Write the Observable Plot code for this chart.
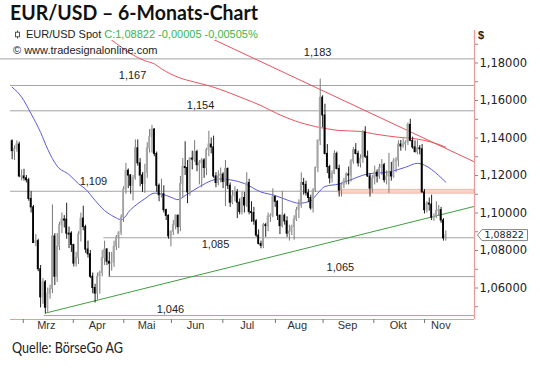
<!DOCTYPE html>
<html><head><meta charset="utf-8">
<script src="https://cdn.jsdelivr.net/npm/d3@7"></script>
<script src="https://cdn.jsdelivr.net/npm/@observablehq/plot@0.6"></script>
<style>
html,body{margin:0;padding:0;background:#fff;}
#wrap{position:relative;width:540px;height:377px;overflow:hidden;background:#fff;}
#chart,#overlay{position:absolute;left:0;top:0;}
</style></head><body>
<div id="wrap"><div id="chart"></div>
<svg id="overlay" width="540" height="377">
 <text x="10" y="19.5" font-family="Lato" font-weight="700" font-size="20.5" fill="#111" textLength="248" lengthAdjust="spacingAndGlyphs">EUR/USD – 6-Monats-Chart</text>
 <line x1="17.5" y1="30.5" x2="17.5" y2="38.5" stroke="#444"/>
 <rect x="15.5" y="32.2" width="4" height="4.6" fill="#fff" stroke="#444" stroke-width="0.9"/>
 <text x="26" y="37.5" font-family="Liberation Sans" font-size="11" fill="#222">EUR/USD Spot <tspan fill="#3cb44b">C:1,08822 -0,00005 -0,00505%</tspan></text>
 <text x="13" y="53.5" font-family="Liberation Sans" font-size="11" fill="#222">© www.tradesignalonline.com</text>
 <text x="478" y="39" font-family="Liberation Sans" font-weight="700" font-size="11" fill="#222">$</text>
 <text x="12" y="353" font-family="Lato" font-size="15.5" fill="#222" textLength="111" lengthAdjust="spacingAndGlyphs">Quelle: BörseGo AG</text>
</svg>
</div>
<script>
// Daily OHLC, EUR/USD (index = trading day)
const open = [
1.1383,1.1330,1.1340,1.1365,1.1195,1.1195,1.1185,1.1175,1.1075,1.1030,
1.0840,1.0850,1.0700,1.0550,1.0630,1.0495,1.0570,1.0595,1.0875,1.0660,
1.0820,1.0935,1.0965,1.0965,1.0890,1.0890,1.0830,1.0730,1.0760,1.0885,
1.0970,1.0925,1.0805,1.0780,1.0660,1.0600,1.0570,1.0660,1.0680,1.0760,
1.0805,1.0740,1.0730,1.0735,1.0820,1.0870,1.0895,1.0975,1.1125,1.1225,
1.1200,1.1145,1.1185,1.1345,1.1265,1.1200,1.1155,1.1215,1.1345,1.1405,
1.1445,1.1315,1.1145,1.1095,1.1100,1.1015,1.0985,1.0875,1.0900,1.0935,
1.0985,1.0925,1.1155,1.1245,1.1240,1.1110,1.1290,1.1285,1.1325,1.1255,
1.1265,1.1280,1.1240,1.1335,1.1365,1.1350,1.1195,1.1160,1.1195,1.1205,
1.1165,1.1235,1.1145,1.1055,1.1090,1.1110,1.1055,1.1005,1.1080,1.1040,
1.1160,1.1005,1.1000,1.0955,1.0880,1.0835,1.0825,1.0935,1.0930,1.0980,
1.0985,1.1085,1.1060,1.0985,1.0930,1.0985,1.0955,1.0890,1.0900,1.0925,
1.0965,1.1015,1.1040,1.1160,1.1150,1.1105,1.1080,1.1025,1.1120,1.1240,
1.1385,1.1615,1.1520,1.1315,1.1245,1.1185,1.1210,1.1315,1.1235,1.1120,
1.1150,1.1170,1.1205,1.1200,1.1275,1.1335,1.1315,1.1265,1.1290,1.1430,
1.1300,1.1195,1.1130,1.1185,1.1215,1.1195,1.1240,1.1255,1.1175,1.1195,
1.1215,1.1195,1.1275,1.1280,1.1365,1.1355,1.1365,1.1375,1.1470,1.1385,
1.1350,1.1325,1.1345,1.1340,1.1110,1.1015,1.1050,1.1045,1.0975,1.0980,
1.1010,1.1015,1.0960,1.0865];
const high = [
1.1390,1.1358,1.1385,1.1378,1.1230,1.1233,1.1200,1.1185,1.1114,1.1040,
1.0885,1.0860,1.0720,1.0650,1.0640,1.0600,1.0615,1.1043,1.0890,1.0890,
1.0951,1.1000,1.0986,1.1052,1.0925,1.0900,1.0830,1.0790,1.0900,1.1000,
1.1036,1.0935,1.0850,1.0800,1.0680,1.0620,1.0680,1.0690,1.0800,1.0850,
1.0810,1.0790,1.0790,1.0850,1.0880,1.0900,1.0990,1.1140,1.1265,1.1235,
1.1205,1.1200,1.1390,1.1390,1.1290,1.1215,1.1260,1.1375,1.1445,1.1467,
1.1450,1.1325,1.1155,1.1180,1.1145,1.1020,1.0990,1.0905,1.0960,1.0990,
1.0990,1.1195,1.1290,1.1380,1.1280,1.1295,1.1330,1.1386,1.1335,1.1280,
1.1290,1.1290,1.1345,1.1436,1.1400,1.1410,1.1215,1.1225,1.1240,1.1215,
1.1280,1.1240,1.1160,1.1120,1.1140,1.1125,1.1075,1.1110,1.1110,1.1215,
1.1180,1.1060,1.1030,1.0965,1.0910,1.0850,1.0945,1.0945,1.1000,1.0995,
1.1129,1.1090,1.1065,1.0990,1.1115,1.0995,1.0980,1.0935,1.0935,1.0985,
1.1030,1.1070,1.1214,1.1185,1.1170,1.1125,1.1095,1.1130,1.1245,1.1390,
1.1714,1.1625,1.1580,1.1365,1.1255,1.1225,1.1332,1.1325,1.1255,1.1160,
1.1185,1.1215,1.1245,1.1285,1.1350,1.1370,1.1330,1.1310,1.1440,1.1460,
1.1330,1.1210,1.1200,1.1250,1.1230,1.1260,1.1285,1.1265,1.1225,1.1318,
1.1270,1.1290,1.1295,1.1385,1.1387,1.1395,1.1385,1.1480,1.1500,1.1405,
1.1385,1.1385,1.1360,1.1365,1.1125,1.1060,1.1080,1.1095,1.0995,1.1060,
1.1040,1.1030,1.0970,1.0905];
const low = [
1.1284,1.1280,1.1324,1.1188,1.1171,1.1170,1.1160,1.1063,1.1000,1.0838,
1.0820,1.0687,1.0494,1.0513,1.0462,1.0470,1.0540,1.0570,1.0613,1.0630,
1.0800,1.0890,1.0920,1.0860,1.0810,1.0790,1.0712,1.0712,1.0725,1.0845,
1.0905,1.0785,1.0760,1.0650,1.0570,1.0520,1.0535,1.0567,1.0660,1.0720,
1.0720,1.0660,1.0690,1.0710,1.0800,1.0810,1.0880,1.0950,1.1100,1.1130,
1.1100,1.1065,1.1175,1.1250,1.1140,1.1110,1.1105,1.1185,1.1320,1.1320,
1.1300,1.1110,1.1060,1.1080,1.1000,1.0960,1.0860,1.0819,1.0880,1.0910,
1.0887,1.0900,1.1080,1.1200,1.1050,1.1090,1.1230,1.1270,1.1220,1.1150,
1.1135,1.1185,1.1200,1.1300,1.1315,1.1185,1.1135,1.1145,1.1160,1.1130,
1.1035,1.1125,1.1030,1.1045,1.1060,1.0970,1.0990,1.0990,1.1000,1.1030,
1.0990,1.0950,1.0935,1.0870,1.0830,1.0809,1.0810,1.0870,1.0900,1.0950,
1.0975,1.1030,1.0960,1.0885,1.0920,1.0935,1.0870,1.0850,1.0880,1.0855,
1.0955,1.0970,1.1025,1.1095,1.1090,1.1055,1.1015,1.1000,1.1110,1.1215,
1.1360,1.1455,1.1310,1.1210,1.1155,1.1160,1.1205,1.1230,1.1085,1.1085,
1.1130,1.1150,1.1150,1.1165,1.1260,1.1310,1.1245,1.1240,1.1265,1.1290,
1.1190,1.1085,1.1105,1.1150,1.1160,1.1180,1.1200,1.1160,1.1150,1.1105,
1.1170,1.1185,1.1215,1.1245,1.1330,1.1345,1.1330,1.1360,1.1380,1.1340,
1.1320,1.1310,1.1310,1.1105,1.0995,1.1000,1.1010,1.0960,1.0955,1.0970,
1.0985,1.0945,1.0850,1.0850];
const close = [
1.1330,1.1340,1.1365,1.1195,1.1195,1.1185,1.1175,1.1075,1.1030,1.0840,
1.0850,1.0700,1.0550,1.0630,1.0495,1.0570,1.0595,1.0875,1.0660,1.0820,
1.0935,1.0965,1.0960,1.0890,1.0885,1.0830,1.0730,1.0760,1.0885,1.0970,
1.0925,1.0805,1.0780,1.0660,1.0600,1.0570,1.0660,1.0680,1.0760,1.0805,
1.0740,1.0730,1.0735,1.0820,1.0870,1.0895,1.0975,1.1125,1.1225,1.1200,
1.1145,1.1185,1.1345,1.1265,1.1200,1.1155,1.1215,1.1345,1.1405,1.1445,
1.1315,1.1145,1.1095,1.1100,1.1015,1.0985,1.0875,1.0900,1.0935,1.0985,
1.0925,1.1155,1.1245,1.1240,1.1110,1.1290,1.1285,1.1325,1.1255,1.1265,
1.1280,1.1240,1.1335,1.1365,1.1350,1.1195,1.1160,1.1195,1.1205,1.1165,
1.1235,1.1145,1.1055,1.1090,1.1110,1.1055,1.1005,1.1080,1.1040,1.1160,
1.1005,1.1000,1.0955,1.0880,1.0835,1.0825,1.0935,1.0930,1.0980,1.0985,
1.1085,1.1060,1.0985,1.0930,1.0985,1.0955,1.0890,1.0900,1.0925,1.0965,
1.1015,1.1040,1.1160,1.1150,1.1105,1.1080,1.1025,1.1120,1.1240,1.1385,
1.1615,1.1520,1.1315,1.1245,1.1185,1.1210,1.1315,1.1235,1.1120,1.1150,
1.1170,1.1205,1.1200,1.1275,1.1335,1.1315,1.1265,1.1290,1.1430,1.1300,
1.1195,1.1130,1.1185,1.1215,1.1195,1.1240,1.1255,1.1175,1.1195,1.1215,
1.1195,1.1275,1.1280,1.1365,1.1355,1.1365,1.1375,1.1470,1.1385,1.1350,
1.1325,1.1345,1.1340,1.1110,1.1015,1.1050,1.1045,1.0975,1.0980,1.1010,
1.1015,1.0960,1.0865,1.08822];

// Moving averages (trading-day index, value)
const ma50Idx = [0,4,8,12,15,19,24,28,31,35,39,43,46,50,56,60,63,67,70,73,79,84,87,92,98,105,111,117,121,126,129,132,138,142,150,159,166,171,174,180,183];
const ma50Val = [1.1671,1.1618,1.1529,1.1430,1.1340,1.1250,1.1205,1.1156,1.1127,1.1067,1.1013,1.0980,1.0964,1.1018,1.1076,1.1106,1.1102,1.1084,1.1071,1.1093,1.1140,1.1172,1.1182,1.1177,1.1157,1.1112,1.1093,1.1065,1.1052,1.1065,1.1106,1.1141,1.1155,1.1173,1.1208,1.1219,1.1244,1.1265,1.1255,1.1200,1.1164];
const ma200Idx = [40,42,50,56,60,63,70,77,84,91,98,105,112,119,128,133,138,146,154,163,170,177,183];
const ma200Val = [1.1940,1.1922,1.1850,1.1812,1.1795,1.1769,1.1724,1.1698,1.1675,1.1644,1.1609,1.1573,1.1529,1.1493,1.1461,1.1449,1.1440,1.1436,1.1419,1.1404,1.1396,1.1378,1.1351];

// Trend lines (endpoints)
const redTrendIdx = [80, 195];
const redTrendVal = [1.1955, 1.1273];
const greenTrendIdx = [14, 195];
const greenTrendVal = [1.0466, 1.1035];

// Horizontal levels
const levelValues = [1.1822, 1.1680, 1.1545, 1.1116, 1.0868, 1.0661, 1.0453];
const levelLabels = ["1,183","1,167","1,154","1,109","1,085","1,065","1,046"];
const levelStart = [-4.9, -0.7, -0.7, -0.7, 38.7, 40.8, 13.5];
const levelLabelIdx = [128.9, 50.8, 79.5, 34.3, 85.8, 138.5, 66.8];
const levelLabelVal = [1.1854, 1.1733, 1.1573, 1.1170, 1.0832, 1.0708, 1.0485];

// Resistance zone
const zoneIdx = [138, 195];
const zoneVal = [1.1103, 1.1124];

// Axes
const monthNames = ["Mrz","Apr","Mai","Jun","Jul","Aug","Sep","Okt","Nov"];
const monthTickIdx = [4.7, 25.8, 47.1, 67.2, 88.9, 111.1, 131.2, 152.6, 174.0];
const monthLabelIdx = [14.4, 35.9, 56.7, 77.4, 99.2, 120.3, 141.5, 162.9, 180.9];
const yTicks = [1.06, 1.08, 1.10, 1.12, 1.14, 1.16, 1.18];
const yMinorTicks = [1.05, 1.07, 1.09, 1.11, 1.13, 1.15, 1.17, 1.19];

const xDomain = [-0.7, 195.1];
const yDomain = [1.0432, 1.192];
const xMax = xDomain[1];

const candles = close.map((c, i) => ({i, o: open[i], h: high[i], l: low[i], c}));
const up = candles.filter(d => d.c >= d.o);
const down = candles.filter(d => d.c < d.o);
const ma50 = ma50Idx.map((i, k) => ({i, v: ma50Val[k]}));
const ma200 = ma200Idx.map((i, k) => ({i, v: ma200Val[k]}));
const redTrend = redTrendIdx.map((i, k) => ({i, v: redTrendVal[k]}));
const greenTrend = greenTrendIdx.map((i, k) => ({i, v: greenTrendVal[k]}));
const levels = levelValues.map((v, k) => ({v, start: levelStart[k], label: levelLabels[k], lx: levelLabelIdx[k], ly: levelLabelVal[k]}));
const months = monthNames.map((name, k) => ({name, pos: monthLabelIdx[k]}));
const fmt = d => d.toFixed(5).replace(".", ",");
const last = close[close.length - 1];

const tagSymbol = {draw(ctx) {
  ctx.moveTo(0, 0); ctx.lineTo(4.5, -5.5); ctx.lineTo(50, -5.5);
  ctx.lineTo(50, 5.5); ctx.lineTo(4.5, 5.5); ctx.closePath();
}};

const chart = Plot.plot({
  width: 540, height: 377,
  marginLeft: 10, marginRight: 66, marginTop: 40, marginBottom: 58,
  x: {domain: xDomain},
  y: {domain: yDomain},
  style: {fontFamily: "Liberation Sans, Arial, sans-serif", background: "transparent", color: "#222"},
  marks: [
    Plot.ruleY(levels, {y: "v", x1: "start", x2: () => xMax, stroke: "#a4a4a4", strokeWidth: 1}),
    Plot.rect([0], {x1: () => zoneIdx[0], x2: () => zoneIdx[1], y1: () => zoneVal[0], y2: () => zoneVal[1], fill: "#f8d3c8", stroke: "#f2aa9c", strokeWidth: 0.7}),
    Plot.text(levels, {x: "lx", y: "ly", text: "label", fontSize: 11, fill: "#222"}),
    Plot.line(greenTrend, {x: "i", y: "v", stroke: "#3f9f3f", strokeWidth: 1, clip: true}),
    Plot.line(ma50, {x: "i", y: "v", stroke: "#5a5ae0", strokeWidth: 1, curve: "monotone-x", clip: true}),
    Plot.line(ma200, {x: "i", y: "v", stroke: "#e8545e", strokeWidth: 1, curve: "monotone-x", clip: true}),
    Plot.line(redTrend, {x: "i", y: "v", stroke: "#e8545e", strokeWidth: 1, clip: true}),
    Plot.ruleX(up, {x: "i", y1: "l", y2: "h", stroke: "#7a7a7a", strokeWidth: 1}),
    Plot.ruleX(down, {x: "i", y1: "l", y2: "h", stroke: "#222", strokeWidth: 1}),
    Plot.rect(up, {x1: d => d.i - 0.38, x2: d => d.i + 0.38, y1: "o", y2: "c", fill: "#a6a6a6", insetTop: -0.5, insetBottom: -0.5}),
    Plot.rect(down, {x1: d => d.i - 0.38, x2: d => d.i + 0.38, y1: "o", y2: "c", fill: "#000", insetTop: -0.5, insetBottom: -0.5}),
    Plot.ruleY([yDomain[0]], {stroke: "#ef9a9a", strokeWidth: 1.2}),
    Plot.ruleX([xMax], {y1: () => yDomain[0], y2: () => 1.1973, stroke: "#ef9a9a", strokeWidth: 1.2}),
    Plot.axisX({ticks: monthTickIdx, tickSize: 4, tickFormat: () => "", stroke: "#777"}),
    Plot.text(months, {x: "pos", text: "name", frameAnchor: "bottom", dy: 9, fontSize: 11, fill: "#333"}),
    Plot.axisY({anchor: "right", ticks: yTicks, tickSize: 3, tickPadding: 2, tickFormat: fmt, fontSize: 11.5, fontFamily: "DejaVu Sans", stroke: "#888", fill: "#222"}),
    Plot.axisY({anchor: "right", ticks: yMinorTicks, tickSize: 3, tickFormat: () => "", stroke: "#888"}),
    Plot.dot([last], {x: () => xMax, y: d => d, symbol: tagSymbol, fill: "#fff", stroke: "#777", strokeWidth: 0.9, dx: 3}),
    Plot.text([last], {x: () => xMax, y: d => d, text: fmt, dx: 10, textAnchor: "start", fontSize: 9.5, fontFamily: "DejaVu Sans", fill: "#222"})
  ]
});
document.getElementById("chart").appendChild(chart);
</script>
</body></html>
